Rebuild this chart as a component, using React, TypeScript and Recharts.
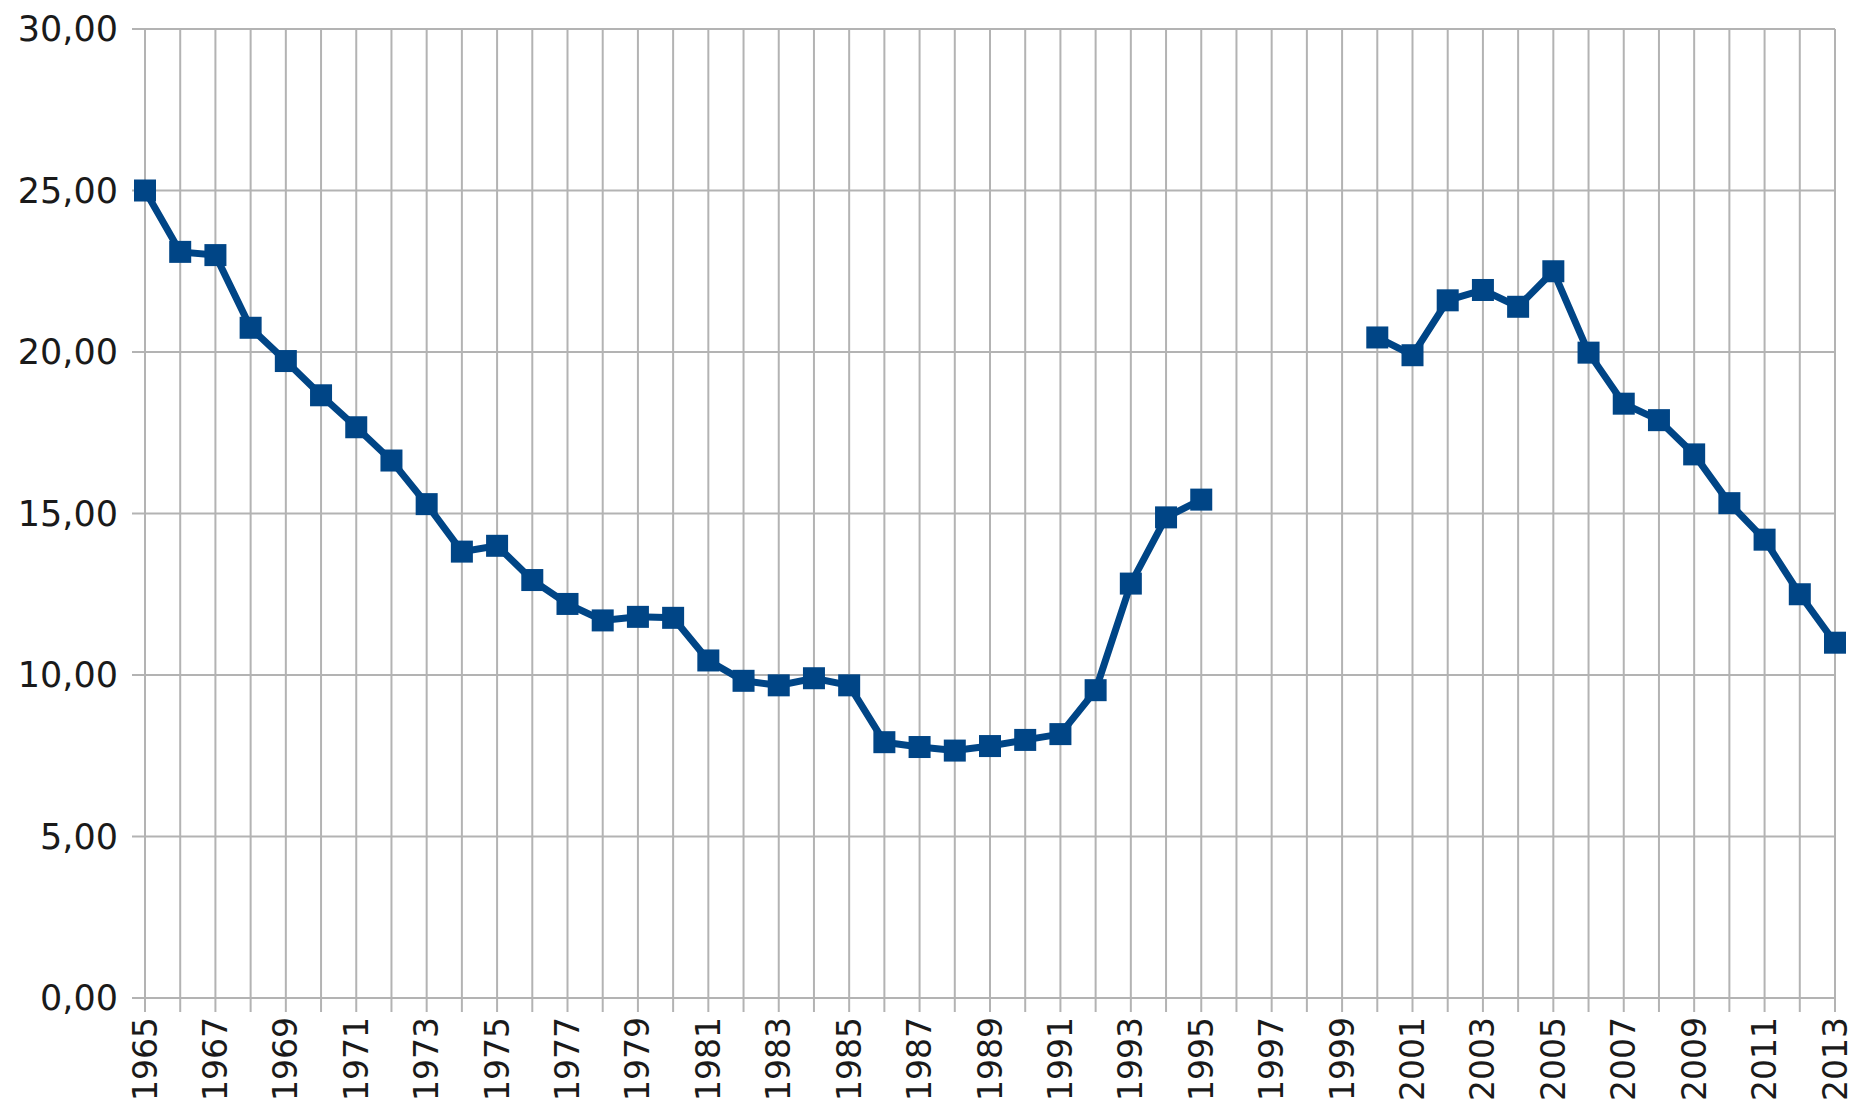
import { LineChart, Line, XAxis, YAxis, CartesianGrid } from "recharts";

const years = [
  1965, 1966, 1967, 1968, 1969, 1970, 1971, 1972, 1973, 1974, 1975, 1976, 1977,
  1978, 1979, 1980, 1981, 1982, 1983, 1984, 1985, 1986, 1987, 1988, 1989, 1990,
  1991, 1992, 1993, 1994, 1995, 1996, 1997, 1998, 1999, 2000, 2001, 2002, 2003,
  2004, 2005, 2006, 2007, 2008, 2009, 2010, 2011, 2012, 2013,
];

const values: (number | null)[] = [
  25.0, 23.1, 23.0, 20.75, 19.72, 18.66, 17.67, 16.64, 15.29, 13.82, 14.0, 12.94,
  12.2, 11.69, 11.8, 11.77, 10.45, 9.82, 9.68, 9.9, 9.68, 7.92, 7.77, 7.66, 7.8,
  7.99, 8.17, 9.53, 12.83, 14.88, 15.43, null, null, null, null, 20.45, 19.9,
  21.6, 21.92, 21.4, 22.5, 19.98, 18.4, 17.89, 16.83, 15.32, 14.19, 12.5, 11.0,
];

const yTicks = [0, 5, 10, 15, 20, 25, 30];

const data = years.map((year, i) => ({ year, value: values[i] }));

const GRID = "#b3b3b3";
const BLUE = "#004586";
const FONT = "DejaVu Sans";

const YTick = ({ x, y, payload }: any) => (
  <text
    x={x}
    y={y}
    textAnchor="end"
    dominantBaseline="central"
    fontSize={35}
    fontFamily={FONT}
    fill="#1a1a1a"
  >
    {payload.value.toFixed(2).replace(".", ",")}
  </text>
);

// labels only on odd years, ticks on every year
const XTick = ({ x, y, payload }: any) => {
  if (payload.value % 2 === 0) return null;
  return (
    <text
      x={x}
      y={y}
      transform={`rotate(-90, ${x}, ${y})`}
      textAnchor="end"
      dominantBaseline="central"
      fontSize={33}
      fontFamily={FONT}
      fill="#1a1a1a"
    >
      {payload.value}
    </text>
  );
};

const SquareDot = ({ cx, cy, payload }: any) => {
  if (payload.value == null) return null;
  return <rect x={cx - 11} y={cy - 11} width={22} height={22} fill={BLUE} />;
};

export default function App() {
  return (
    <div style={{ position: "absolute", left: 0, top: 0, background: "#fff" }}>
      <LineChart
        width={1856}
        height={1104}
        data={data}
        margin={{ top: 29, right: 21, bottom: 0, left: 0 }}
      >
        <CartesianGrid stroke={GRID} strokeWidth={2} />
        <XAxis
          dataKey="year"
          type="number"
          domain={[1965, 2013]}
          ticks={years}
          interval={0}
          height={106}
          tick={<XTick />}
          tickSize={14}
          tickMargin={5}
          tickLine={{ stroke: GRID, strokeWidth: 2 }}
          axisLine={{ stroke: GRID, strokeWidth: 2 }}
        />
        <YAxis
          domain={[0, 30]}
          ticks={yTicks}
          width={145}
          tick={<YTick />}
          tickSize={13}
          tickMargin={14}
          tickLine={{ stroke: GRID, strokeWidth: 2 }}
          axisLine={{ stroke: GRID, strokeWidth: 2 }}
        />
        <Line
          dataKey="value"
          stroke={BLUE}
          strokeWidth={7}
          dot={<SquareDot />}
          activeDot={false}
          connectNulls={false}
          isAnimationActive={false}
        />
      </LineChart>
    </div>
  );
}
